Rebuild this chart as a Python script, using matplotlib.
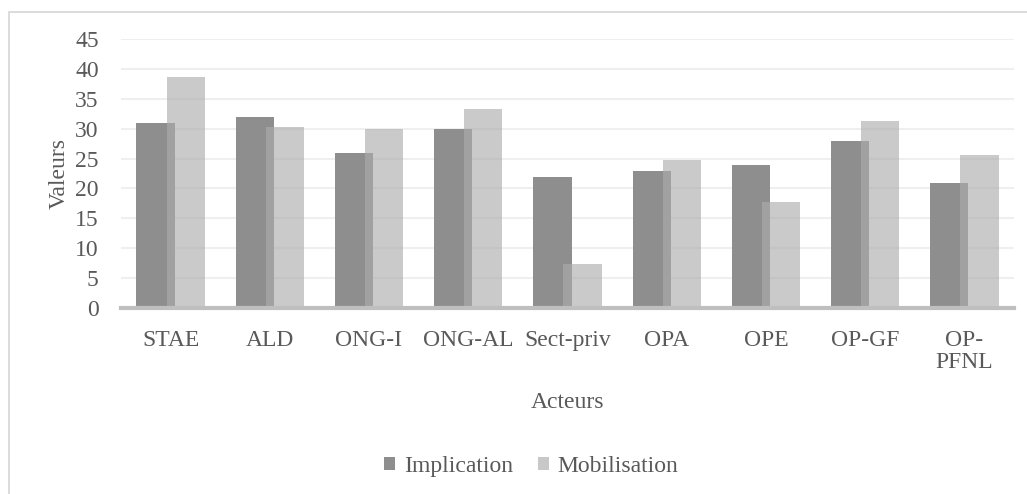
import matplotlib
matplotlib.use("Agg")
import matplotlib.pyplot as plt
import numpy as np
from matplotlib.patches import Rectangle

categories = ["STAE", "ALD", "ONG-I", "ONG-AL", "Sect-priv", "OPA", "OPE", "OP-GF", "OP-\nPFNL"]
implication = [31, 32, 26, 30, 22, 23, 24, 28, 21]
mobilisation = [38.7, 30.4, 30.0, 33.3, 7.3, 24.7, 17.7, 31.4, 25.7]
yticks = [0, 5, 10, 15, 20, 25, 30, 35, 40, 45]

plt.rcParams["font.family"] = ["Liberation Serif", "DejaVu Serif"]
text_color = "#595959"
fs = 17

W, H = 1027, 494
fig = plt.figure(figsize=(W / 100, H / 100), dpi=100)

# chart area outline
fig.patches.append(Rectangle((8.5 / W, -0.1), 1.2, 1 - 12 / H + 0.1,
                             transform=fig.transFigure, fill=False,
                             edgecolor="#d9d9d9", linewidth=1.3))

left, right = 121 / W, 1014 / W
bottom, top = 1 - 307.7 / H, 1 - 39.5 / H
ax = fig.add_axes([left, bottom, right - left, top - bottom])

x = np.arange(len(categories))
width = 0.385
offset = 0.152
ax.bar(x - offset, implication, width, color="#8e8e8e", zorder=2,
       label="Implication")
ax.bar(x + offset, mobilisation, width, color="#acacac", alpha=0.64,
       zorder=3, label="Mobilisation")

ax.set_xlim(-0.5, len(categories) - 0.5)
ax.set_ylim(0, 45)
ax.set_yticks(yticks)
ax.set_yticklabels([str(v) for v in yticks])
ax.set_xticks(x)
ax.set_xticklabels(categories, linespacing=1.05)

ax.yaxis.grid(True, color="#efefef", linewidth=1.5, zorder=0)
ax.set_axisbelow(True)
for s in ["top", "right", "left"]:
    ax.spines[s].set_visible(False)
ax.spines["bottom"].set_color("#bfbfbf")
ax.spines["bottom"].set_linewidth(3)
ax.spines["bottom"].set_zorder(4)

ax.tick_params(axis="both", length=0, labelsize=fs, colors=text_color)
ax.tick_params(axis="y", pad=16)
ax.tick_params(axis="x", pad=16)

ax.set_ylabel("Valeurs", fontsize=fs, color=text_color, labelpad=4)
ax.set_xlabel("Acteurs", fontsize=fs, color=text_color, labelpad=14)

leg = fig.legend(loc="center", bbox_to_anchor=(531 / W, 1 - 466 / H), ncol=2,
                 frameon=False, fontsize=fs, handlelength=0.47,
                 handleheight=0.47, handletextpad=0.35, columnspacing=1.05)
for t in leg.get_texts():
    t.set_color(text_color)
for h in leg.legend_handles:
    h.set_alpha(1)
leg.legend_handles[1].set_facecolor("#c8c8c8")

fig.savefig("out.png", dpi=100)
